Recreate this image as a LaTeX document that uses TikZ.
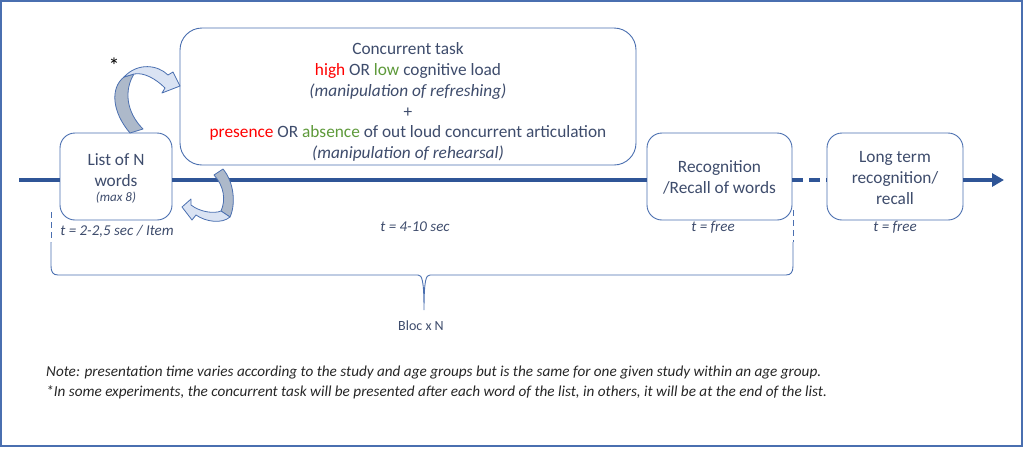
\documentclass[tikz,border=0pt]{standalone}
\usepackage{fontspec}
\setmainfont{Carlito}
\usetikzlibrary{arrows.meta}
\definecolor{txt}{HTML}{3E4C6C}
\definecolor{boxc}{HTML}{4A6FB0}
\definecolor{linec}{HTML}{2F5597}
\definecolor{redc}{HTML}{FF0000}
\definecolor{greenc}{HTML}{5E9A3A}
\definecolor{afront}{HTML}{DAE3F3}
\definecolor{aback}{HTML}{ADB9CA}
\begin{document}
\begin{tikzpicture}[x=1pt,y=-1pt,
  stepbox/.style={draw=boxc, line width=0.9pt, fill=white, rounded corners=15pt, inner sep=0pt},
  big/.style={text=txt, font=\fontsize{17.3}{20.8}\selectfont, align=center},
  tlab/.style={text=txt, font=\fontsize{15}{17}\selectfont\itshape},
  mainline/.style={draw=linec, line width=3.6pt},
  curvearrow/.style={draw=boxc, line width=0.8pt, line join=round},
  bracec/.style={draw=boxc, line width=0.9pt}]
\useasboundingbox (0,0) rectangle (1024,448);
\draw[boxc, line width=2pt] (1,1) rectangle (1022,446);

% boxes
\node[stepbox, minimum width=112pt, minimum height=87pt] (list) at (116,176.5) {};
\node[stepbox, minimum width=456pt, minimum height=137pt, rounded corners=22pt] (conc) at (408,96.5) {};
\node[stepbox, minimum width=145pt, minimum height=87pt] (recog) at (719.5,176.5) {};
\node[stepbox, minimum width=136pt, minimum height=87pt] (lterm) at (895,176.5) {};

% main time line
\coordinate (start) at (19,180);
\coordinate (finish) at (1004,180);
\draw[mainline] (start) -- (list.west |- start);
\draw[mainline] (list.east |- start) -- (recog.west |- start);
\draw[mainline, dash pattern=on 11pt off 6pt] (recog.east |- start) -- (lterm.west |- start);
\draw[mainline, -{Triangle[length=12pt,width=13pt]}] (lterm.east |- start) -- (finish);

% texts in boxes
\node[big] (listtxt) at (116,170) {List of N\\words};
\node[text=txt, font=\fontsize{13}{14}\selectfont\itshape] (maxtxt) at (116,198) {(max 8)};
\node[big] (conctxt) at (408,102) {Concurrent task\\
  \textcolor{redc}{high} OR \textcolor{greenc}{low} cognitive load\\
  \textit{(manipulation of refreshing)}\\
  +\\
  \textcolor{redc}{presence} OR \textcolor{greenc}{absence} of out loud concurrent articulation\\
  \textit{(manipulation of rehearsal)}};
\node[big] (recogtxt) at (719.5,177.5) {Recognition\\/Recall of words};
\node[big] (ltermtxt) at (895,178) {Long term\\recognition/\\recall};

% time labels
\node[tlab] (t1) at (117,231) {t = 2-2,5 sec / Item};
\node[tlab] (t2) at (415,227) {t = 4-10 sec};
\node[tlab] (t3) at (713,227) {t = free};
\node[tlab] (t4) at (895,227) {t = free};

% star
\node[text=black, font=\fontsize{22}{22}\selectfont] (star) at (114,66) {*};

% curved arrow: list -> concurrent task
\filldraw[curvearrow, fill=aback] (130,133) .. controls (112,112) and (110,88) .. (124,77) -- (134,74) .. controls (124,90) and (126,112) .. (143,129) -- cycle;
\filldraw[curvearrow, fill=afront] (124,77) .. controls (138,62) and (158,65) .. (168,75) -- (173,72) -- (180,86) -- (162,93) -- (165,88)
  .. controls (156,79) and (144,72) .. (134,74) -- cycle;

% curved arrow: concurrent task -> list
\filldraw[curvearrow, fill=aback] (214,175) -- (223,169) .. controls (234,182) and (236,204) .. (230,217) -- (221,211) .. controls (226,200) and (224,186) .. (214,175) -- cycle;
\filldraw[curvearrow, fill=afront] (230,217) .. controls (222,224) and (206,222) .. (196,215) -- (192,220) -- (182,207) -- (191,199) -- (191,205)
  .. controls (200,212) and (214,214) .. (221,211) -- cycle;

% brace
\draw[bracec, dash pattern=on 6pt off 4pt] (51,212) -- (51,242);
\draw[bracec, dash pattern=on 6pt off 4pt] (793,210) -- (793,242);
\coordinate (btip) at (424,310);
\draw[bracec] (51,242) -- (51,266) .. controls (51,272) and (53,275) .. (58,275) -- (418,275)
  .. controls (422,275) and (424,280) .. (btip) .. controls (424,280) and (426,275) .. (430,275)
  -- (786,275) .. controls (791,275) and (793,272) .. (793,266) -- (793,242);
\node[text=txt, font=\fontsize{14}{16}\selectfont] (bloc) at (421,326) {Bloc x N};

% notes
\node[anchor=west, inner sep=0pt, text=black!85, font=\fontsize{15.2}{17}\selectfont\itshape] (note1) at (46,373) {Note: presentation time varies according to the study and age groups but is the same for one given study within an age group.};
\node[anchor=west, inner sep=0pt, text=black!85, font=\fontsize{15.2}{17}\selectfont\itshape] (note2) at (46,392) {*In some experiments, the concurrent task will be presented after each word of the list, in others, it will be at the end of the list.};
\end{tikzpicture}
\end{document}
